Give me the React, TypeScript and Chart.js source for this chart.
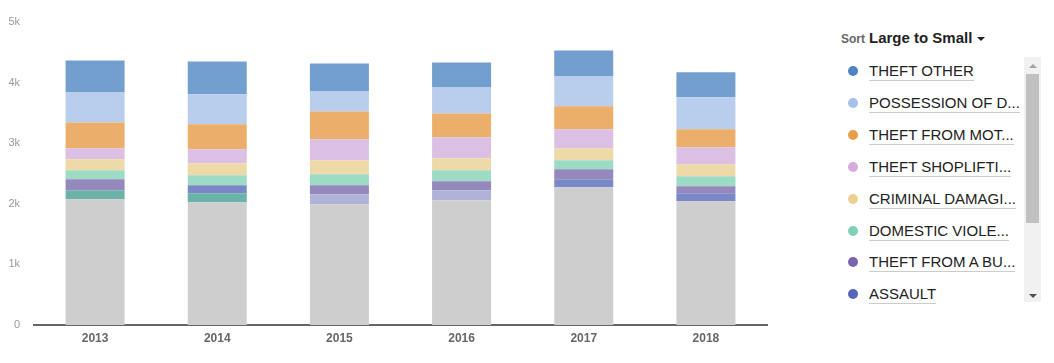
import React, { useEffect, useRef } from "react";
import { Chart, registerables } from "chart.js";

Chart.register(...registerables);

const years = ["2013", "2014", "2015", "2016", "2017", "2018"];

const theftOther = [527, 544, 461, 412, 428, 412];
const possessionOfDrugs = [494, 494, 329, 428, 494, 527];
const theftFromMotorVehicle = [428, 412, 461, 395, 379, 297];
const theftShoplifting = [181, 231, 346, 346, 313, 280];
const criminalDamage = [181, 198, 231, 198, 198, 198];
const domesticViolence = [148, 165, 181, 181, 148, 165];
const theftFromABuilding = [181, 0, 148, 148, 165, 115];
const assault = [0, 132, 0, 0, 132, 132];
const burglary = [148, 148, 0, 0, 0, 0];
const robbery = [0, 0, 165, 165, 0, 0];
const allOther = [2076, 2026, 1993, 2059, 2273, 2043];

const yTickValues = [0, 1000, 2000, 3000, 4000, 5000];
const yTickLabels = ["0", "1k", "2k", "3k", "4k", "5k"];

const legendLabels = [
  "THEFT OTHER",
  "POSSESSION OF D...",
  "THEFT FROM MOT...",
  "THEFT SHOPLIFTI...",
  "CRIMINAL DAMAGI...",
  "DOMESTIC VIOLE...",
  "THEFT FROM A BU...",
  "ASSAULT",
];
const legendColors = [
  "#4f83c1",
  "#a8c1e9",
  "#e99c4a",
  "#d5acdc",
  "#ecd08f",
  "#7fd2b7",
  "#7a64ab",
  "#5566b9",
];

const stackSeries = [
  { label: "ALL OTHER", data: allOther, color: "#cecece" },
  { label: "BURGLARY", data: burglary, color: "#6bb2a9" },
  { label: "ROBBERY", data: robbery, color: "#b0b3d8" },
  { label: "ASSAULT", data: assault, color: "#7b88c8" },
  { label: "THEFT FROM A BUILDING", data: theftFromABuilding, color: "#9588bd" },
  { label: "DOMESTIC VIOLENCE", data: domesticViolence, color: "#9ddbc5" },
  { label: "CRIMINAL DAMAGE", data: criminalDamage, color: "#eed9a8" },
  { label: "THEFT SHOPLIFTING", data: theftShoplifting, color: "#dbc0e4" },
  { label: "THEFT FROM MOTOR VEHICLE", data: theftFromMotorVehicle, color: "#ecaf6b" },
  { label: "POSSESSION OF DRUGS", data: possessionOfDrugs, color: "#b9cdec" },
  { label: "THEFT OTHER", data: theftOther, color: "#729fcd" },
];

const FONT = "'Liberation Sans', Arial, sans-serif";

export default function App() {
  const canvasRef = useRef<HTMLCanvasElement | null>(null);

  useEffect(() => {
    document.body.style.margin = "0";
    const canvas = canvasRef.current;
    if (!canvas) return;
    const chart = new Chart(canvas, {
      type: "bar",
      data: {
        labels: years,
        datasets: stackSeries.map((s) => ({
          label: s.label,
          data: s.data,
          backgroundColor: s.color,
          borderWidth: 0,
          categoryPercentage: 1,
          barPercentage: 0.483,
        })),
      },
      options: {
        animation: false,
        responsive: false,
        maintainAspectRatio: false,
        layout: { padding: { top: 22, right: 23, left: 0, bottom: 0 } },
        plugins: {
          legend: { display: false },
          tooltip: { enabled: false },
        },
        scales: {
          x: {
            stacked: true,
            grid: { display: false, drawTicks: false },
            border: { display: true, color: "#666666", width: 2 },
            ticks: {
              padding: 6,
              color: "#666666",
              font: { family: FONT, size: 12, weight: "bold" },
            },
            afterFit: (scale: any) => {
              scale.height = 38;
            },
          },
          y: {
            stacked: true,
            min: 0,
            max: 5000,
            grid: { display: false, drawTicks: false },
            border: { display: false },
            afterBuildTicks: (scale: any) => {
              scale.ticks = yTickValues.map((v) => ({ value: v }));
            },
            ticks: {
              padding: 14,
              color: "#999999",
              font: { family: FONT, size: 11 },
              callback: (value: any) => {
                const i = yTickValues.indexOf(Number(value));
                return i >= 0 ? yTickLabels[i] : "";
              },
            },
            afterFit: (scale: any) => {
              scale.width = 34;
            },
          },
        },
      },
    });
    return () => chart.destroy();
  }, []);

  const rowCenters = legendLabels.map((_, i) => 71 + i * 31.9);

  return (
    <div
      style={{
        position: "absolute",
        left: 0,
        top: 0,
        width: 1054,
        height: 363,
        background: "#ffffff",
        fontFamily: FONT,
        overflow: "hidden",
      }}
    >
      <canvas
        ref={canvasRef}
        width={790}
        height={363}
        style={{ position: "absolute", left: 0, top: 0, width: 790, height: 363 }}
      />
      <div
        style={{
          position: "absolute",
          left: 841,
          top: 29,
          whiteSpace: "nowrap",
          lineHeight: "18px",
        }}
      >
        <span style={{ fontSize: 12, color: "#666", fontWeight: "bold" }}>Sort</span>
        <span
          style={{ fontSize: 15, color: "#222", fontWeight: "bold", marginLeft: 4 }}
        >
          Large to Small
        </span>
        <span
          style={{
            display: "inline-block",
            width: 0,
            height: 0,
            marginLeft: 5,
            verticalAlign: "middle",
            borderLeft: "4px solid transparent",
            borderRight: "4px solid transparent",
            borderTop: "4px solid #222",
          }}
        />
      </div>
      {legendLabels.map((label, i) => (
        <div key={label}>
          <div
            style={{
              position: "absolute",
              left: 848,
              top: rowCenters[i] - 5,
              width: 10,
              height: 10,
              borderRadius: "50%",
              background: legendColors[i],
            }}
          />
          <div
            style={{
              position: "absolute",
              left: 869,
              top: rowCenters[i] - 9,
              fontSize: 15,
              lineHeight: "17px",
              color: "#222",
              whiteSpace: "nowrap",
              borderBottom: "1px solid #cccccc",
              paddingBottom: 1,
            }}
          >
            {label}
          </div>
        </div>
      ))}
      <div
        style={{
          position: "absolute",
          left: 1024,
          top: 57,
          width: 17,
          height: 245,
          background: "#f1f1f1",
        }}
      />
      <div
        style={{
          position: "absolute",
          left: 1026,
          top: 74,
          width: 13,
          height: 149,
          background: "#c1c1c1",
        }}
      />
      <div
        style={{
          position: "absolute",
          left: 1029,
          top: 64,
          width: 0,
          height: 0,
          borderLeft: "4px solid transparent",
          borderRight: "4px solid transparent",
          borderBottom: "4px solid #a3a3a3",
        }}
      />
      <div
        style={{
          position: "absolute",
          left: 1029,
          top: 294,
          width: 0,
          height: 0,
          borderLeft: "4px solid transparent",
          borderRight: "4px solid transparent",
          borderTop: "4px solid #505050",
        }}
      />
    </div>
  );
}
